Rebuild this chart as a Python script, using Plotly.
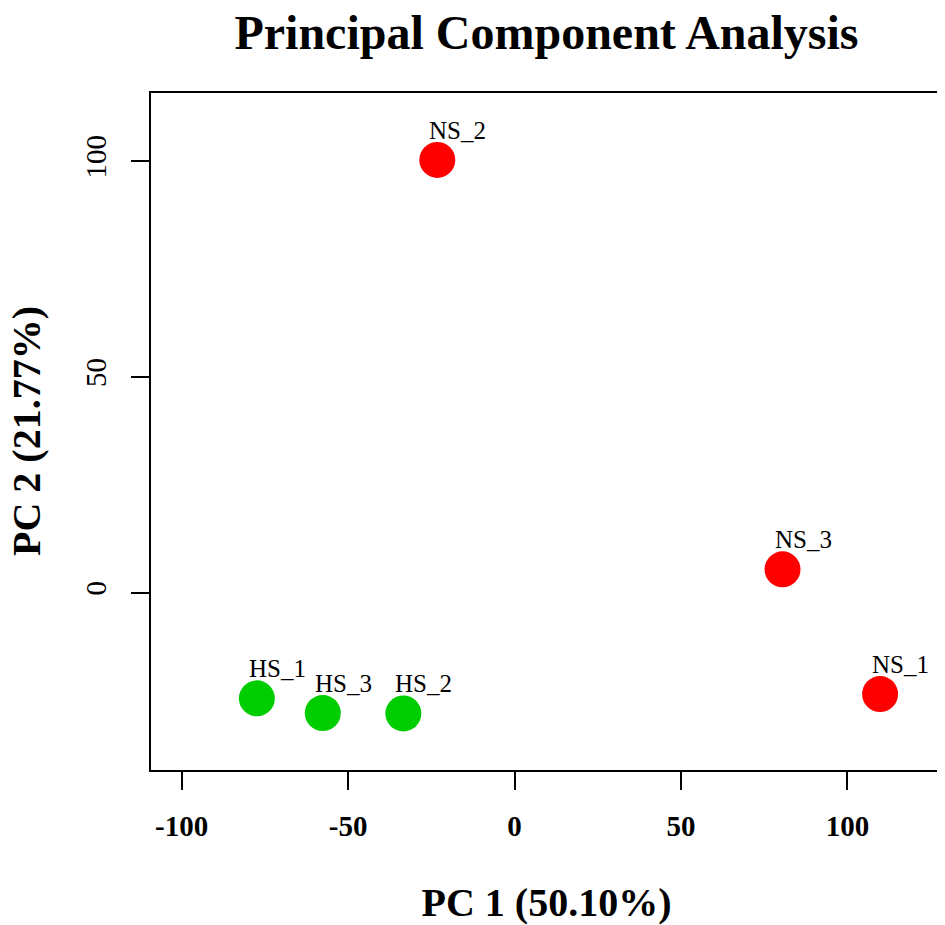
import plotly.graph_objects as go

samples = ["NS_1", "NS_2", "NS_3", "HS_1", "HS_2", "HS_3"]
pc1 = [109.8, -23.2, 80.5, -77.4, -33.4, -57.6]
pc2 = [-23.5, 100.3, 5.4, -24.5, -28.0, -27.9]
groups = ["NS", "NS", "NS", "HS", "HS", "HS"]
group_colors = {"NS": "#FF0000", "HS": "#00CD00"}

x_ticks = [-100, -50, 0, 50, 100]
x_ticktext = ["-100", "-50", "0", "50", "100"]
y_ticks = [0, 50, 100]

serif = "Liberation Serif"

fig = go.Figure()
fig.add_trace(
    go.Scatter(
        x=pc1,
        y=pc2,
        mode="markers",
        marker=dict(size=36, color=[group_colors[g] for g in groups], line=dict(width=0)),
        hoverinfo="text",
        text=samples,
        showlegend=False,
    )
)

# sample labels, sitting just above and a little right of each point
for name, xv, yv in zip(samples, pc1, pc2):
    fig.add_annotation(
        x=xv,
        y=yv,
        text=name,
        showarrow=False,
        xanchor="left",
        yanchor="bottom",
        xshift=-10,
        yshift=14,
        font=dict(family=serif, size=25, color="black"),
    )

# y axis title as an annotation (standoff is ignored without automargin)
fig.add_annotation(
    text="PC 2 (21.77%)",
    xref="paper",
    yref="paper",
    x=0,
    y=0.5,
    xanchor="right",
    yanchor="middle",
    xshift=-100,
    textangle=-90,
    showarrow=False,
    font=dict(family=serif, size=40, color="black", weight="bold"),
)

axis_common = dict(
    showline=True,
    linecolor="black",
    linewidth=2,
    mirror=True,
    ticks="outside",
    ticklen=18,
    tickwidth=2,
    tickcolor="black",
    showgrid=False,
    zeroline=False,
    automargin=False,
)

# the page puts the figure 8px in from the top-left corner, so size/margins allow for that
fig.update_layout(
    width=937,
    height=917,
    margin=dict(l=143, r=3, t=85, b=155),
    paper_bgcolor="white",
    plot_bgcolor="white",
    title=dict(
        text="Principal Component Analysis",
        x=0.5,
        xref="paper",
        xanchor="center",
        y=1,
        yref="paper",
        yanchor="bottom",
        pad=dict(b=44),
        font=dict(family=serif, size=48, color="black", weight="bold"),
    ),
    xaxis=dict(
        range=[-109.2, 128.4],
        tickvals=x_ticks,
        ticktext=x_ticktext,
        ticklabelstandoff=11,
        tickfont=dict(family=serif, size=29, color="black", weight="bold"),
        title=dict(
            text="PC 1 (50.10%)",
            standoff=55,
            font=dict(family=serif, size=40, color="black", weight="bold"),
        ),
        **axis_common,
    ),
    yaxis=dict(
        range=[-41.1, 115.8],
        tickvals=y_ticks,
        tickangle=-90,
        ticklabelstandoff=13,
        tickfont=dict(family=serif, size=29, color="black"),
        **axis_common,
    ),
)

fig.write_html("out.html")
